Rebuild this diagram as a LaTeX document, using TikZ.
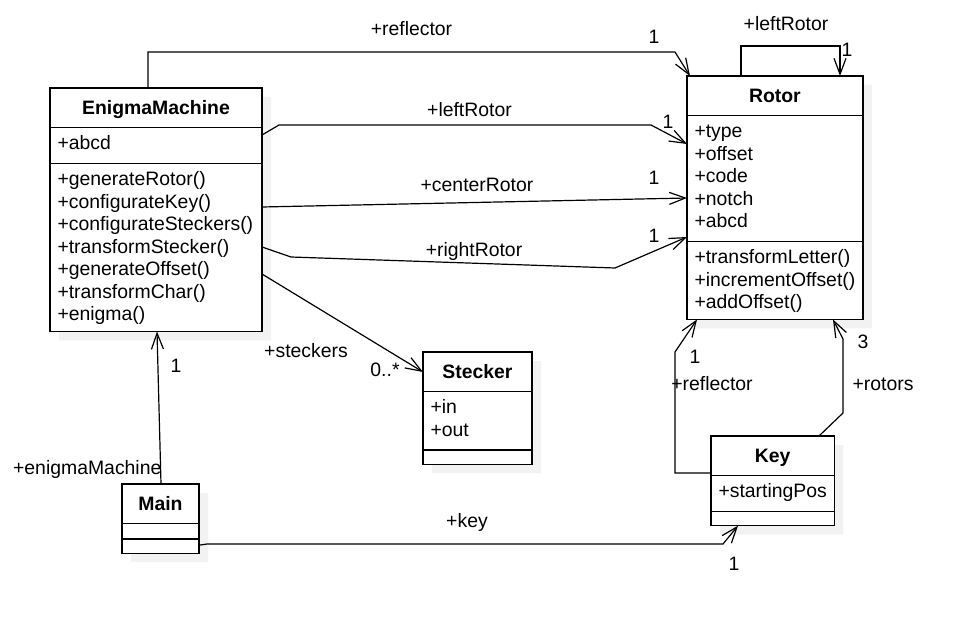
\documentclass[tikz,border=0pt]{standalone}
\usepackage{fontspec}
\setmainfont{Liberation Sans}
\usetikzlibrary{arrows.meta,shapes.multipart,shadows}

\newcommand\clsname[1]{\rule[-6pt]{0pt}{26pt}\textbf{#1}}
\newcommand\nothing[1][1pt]{\hspace{1pt}\rule{0pt}{#1}}

\begin{document}
\begin{tikzpicture}[x=1pt,y=-1pt,font=\fontsize{19.4}{22.5}\selectfont,
  class/.style={rectangle split,rectangle split parts=3,draw,line width=1.4pt,
    fill=white,anchor=north west,outer sep=0pt,inner xsep=7.5pt,inner ysep=6pt,
    align=left,rectangle split part align={center,left,left},
    drop shadow={shadow xshift=9pt,shadow yshift=-9pt,fill=black!5,opacity=1}},
  assoc/.style={-{Straight Barb[length=16pt,width=12pt]},line width=1.2pt}]

  \fill[white] (0,0) rectangle (972,628);
  \useasboundingbox (0,0) rectangle (972,628);

  % classes
  \node[class,minimum width=212pt] (em) at (50,88)
    {\clsname{EnigmaMachine}
     \nodepart{two}\strut+abcd
     \nodepart{three}\strut+generateRotor()\\+configurateKey()\\+configurateSteckers()\\
       +transformStecker()\\+generateOffset()\\+transformChar()\\+enigma()};
  \node[class,minimum width=175pt] (rot) at (687,76)
    {\clsname{Rotor}
     \nodepart{two}\strut+type\\+offset\\+code\\+notch\\+abcd\strut
     \nodepart{three}\strut+transformLetter()\\+incrementOffset()\\+addOffset()};
  \node[class,minimum width=109pt] (st) at (423,352)
    {\clsname{Stecker}
     \nodepart{two}\strut+in\\+out\strut
     \nodepart{three}\nothing};
  \node[class,minimum width=122pt] (key) at (711,436)
    {\clsname{Key}
     \nodepart{two}\strut+startingPos
     \nodepart{three}\nothing};
  \node[class,minimum width=77pt] (main) at (122,484)
    {\clsname{Main}
     \nodepart{two}\nothing[2pt]
     \nodepart{three}\nothing};

  % associations
  \draw[assoc] ([xshift=98pt]em.north west)
    |- node[pos=.75,yshift=23pt] (lbrefl) {+reflector}
    (675,52) node[xshift=-21pt,yshift=15pt] (mrefl) {1}
    -- ([xshift=3pt]rot.north west);
  \draw[assoc] ([yshift=-47pt]em.north east) -- (279,125)
    -- node[xshift=4.5pt,yshift=15pt] (lblr) {+leftRotor} (651,125)
    -- node[at end,xshift=-19pt,yshift=22pt] (mlr) {1} ([yshift=-68pt]rot.north west);
  \draw[assoc] ([yshift=-119pt]em.north east)
    -- node[xshift=2.5pt,yshift=17.5pt] (lbcr) {+centerRotor}
       node[at end,xshift=-33pt,yshift=20pt] (mcr) {1} ([yshift=-122pt]rot.north west);
  \draw[assoc] ([yshift=-159pt]em.north east) -- (291,257)
    -- node[xshift=21pt,yshift=11.5pt] (lbrr) {+rightRotor} (615,268)
    -- node[at end,xshift=-33pt,yshift=1pt] (mrr) {1} ([yshift=-161pt]rot.north west);
  \draw[assoc] ([xshift=54pt]rot.north west) -- ++(0,-30)
    -| node[pos=.25,xshift=-4.5pt,yshift=22pt] (lbloop) {+leftRotor}
       node[at end,xshift=7pt,yshift=26pt] (mloop) {1} ([xshift=153pt]rot.north west);
  \draw[assoc] ([yshift=-186pt]em.north east)
    -- node[xshift=-36.5pt,yshift=-28pt] (lbst) {+steckers}
       node[at end,xshift=-38pt,yshift=2pt] (mst) {0..*} ([yshift=-20pt]st.north west);
  \draw[assoc] ([xshift=39pt]main.north west)
    -- node[at start,anchor=east,inner sep=0pt,xshift=1pt,yshift=15pt] (lbem) {+enigmaMachine}
       node[at end,xshift=19pt,yshift=-34pt] (mem) {1} ([xshift=107pt]em.south west);
  \draw[assoc] ([yshift=8pt]main.south east) -- (207,544)
    -- node[xshift=2pt,yshift=22pt] (lbkey) {+key} (723,544)
    -- node[at end,xshift=-4pt,yshift=-38pt] (mkey) {1} ([xshift=27pt]key.south west);
  \draw[assoc] ([yshift=-37pt]key.north west) -- (675,473)
    -- node[xshift=37pt,yshift=28.5pt] (lbkr) {+reflector} (675,352)
    -- node[at end,xshift=-2pt,yshift=-37pt] (mkr) {1} ([xshift=10pt]rot.south west);
  \draw[assoc] ([xshift=108pt]key.north west) -- (843,413)
    -- node[xshift=40pt,yshift=-8pt] (lbro) {+rotors} (843,339)
    -- node[at end,xshift=30pt,yshift=-22pt] (mro) {3} ([xshift=146pt]rot.south west);

\end{tikzpicture}
\end{document}
